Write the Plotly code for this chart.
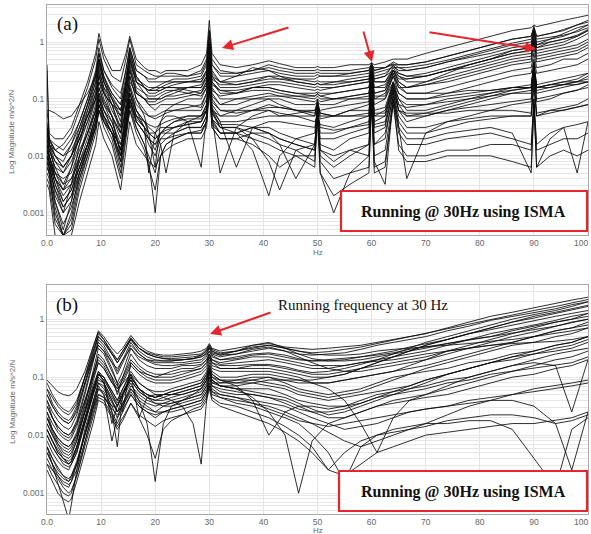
import plotly.graph_objects as go

# ---------------------------------------------------------------------------
# Frequency grids (Hz)
# ---------------------------------------------------------------------------
FREQ_A = [0, 0.4, 1.5, 3, 4.5, 6, 7.5, 9, 9.6, 10.5,
          12, 13.6, 14.6, 15.3, 16.5, 18, 18.8, 20, 21, 22,
          23.5, 26, 28.5, 29.5, 30, 30.5, 32, 35, 38, 41,
          43, 46, 49.5, 50, 50.5, 53, 56, 59.5, 60, 60.5,
          62.5, 64, 65, 66.5, 70, 74, 78, 82, 86, 89.5,
          90, 90.5, 93, 95.5, 98, 100]

FREQ_B = [0, 1, 2, 3, 4, 4.5, 5.5, 7, 8.5, 9.5,
          10.5, 12, 13, 14, 15.5, 17, 18.5, 20, 21.5, 23,
          25, 27, 28.5, 29.5, 30, 30.5, 32, 35, 38, 41,
          44, 46.5, 49, 52, 55, 58, 61, 64, 67, 70,
          74, 78, 82, 86, 90, 94, 97, 100]

# ---------------------------------------------------------------------------
# (a) FRFs measured while running at 30 Hz - log10 magnitude, m/s^2/N
# ---------------------------------------------------------------------------
A01 = [-1.2,-1.6,-1.7,-1.7,-1.5,-1.1,-0.7,-0.2,0.15,-0.2, -0.5,-0.5,-0.2,0.1,-0.3,-0.45,-0.5,-0.5,-0.55,-0.5, -0.5,-0.5,-0.4,-0.2,0.38,-0.2,-0.4,-0.45,-0.4,-0.33, -0.38,-0.45,-0.45,-0.43,-0.45,-0.45,-0.4,-0.4,-0.36,-0.4, -0.35,-0.3,-0.3,-0.3,-0.2,-0.1,0.0,0.1,0.2,0.25, 0.3,0.27,0.33,0.38,0.43,0.47]
A02 = [-1.6,-1.8,-1.9,-1.8,-1.6,-1.2,-0.8,-0.3,0.05,-0.3, -0.6,-0.7,-0.3,0.05,-0.4,-0.5,-0.55,-0.6,-0.6,-0.55, -0.55,-0.6,-0.5,-0.3,0.2,-0.3,-0.5,-0.55,-0.5,-0.4, -0.45,-0.5,-0.5,-0.48,-0.5,-0.5,-0.5,-0.45,-0.4,-0.45, -0.45,-0.4,-0.4,-0.4,-0.35,-0.25,-0.15,-0.05,0.05,0.1, 0.28,0.1,0.15,0.2,0.3,0.38]
A03 = [-0.5,-1.8,-2.0,-2.1,-1.8,-1.4,-1.0,-0.5,-0.1,-0.5, -0.8,-1.0,-0.5,-0.1,-0.5,-0.6,-0.7,-0.7,-0.7,-0.7, -0.65,-0.65,-0.6,-0.4,0.1,-0.4,-0.6,-0.6,-0.55,-0.5, -0.55,-0.6,-0.6,-0.57,-0.6,-0.6,-0.6,-0.55,-0.4,-0.55, -0.5,-0.45,-0.45,-0.5,-0.45,-0.35,-0.25,-0.15,-0.05,0.0, 0.15,0.0,0.05,0.1,0.2,0.3]
A04 = [-1.9,-2.0,-2.4,-2.6,-2.2,-1.6,-1.1,-0.6,-0.2,-0.6, -1.0,-1.3,-0.7,-0.2,-0.6,-0.8,-0.9,-0.9,-0.85,-0.8, -0.75,-0.7,-0.7,-0.5,0.0,-0.5,-0.7,-0.75,-0.7,-0.6, -0.6,-0.65,-0.7,-0.68,-0.7,-0.7,-0.7,-0.65,-0.5,-0.65, -0.6,-0.5,-0.55,-0.6,-0.6,-0.5,-0.4,-0.3,-0.2,-0.15, 0.05,-0.15,-0.1,-0.05,0.05,0.15]
A05 = [-2.0,-2.1,-2.7,-3.0,-2.5,-1.8,-1.2,-0.7,-0.3,-0.7, -1.1,-1.5,-0.8,-0.3,-0.7,-0.9,-1.0,-1.0,-1.0,-0.95, -0.9,-0.8,-0.8,-0.6,-0.1,-0.6,-0.8,-0.8,-0.75,-0.7, -0.7,-0.75,-0.8,-0.78,-0.8,-0.8,-0.75,-0.7,-0.45,-0.7, -0.7,-0.45,-0.6,-0.7,-0.7,-0.6,-0.5,-0.4,-0.3,-0.25, 0.0,-0.25,-0.2,-0.15,-0.1,0.0]
A06 = [-1.7,-1.9,-2.2,-2.3,-2.0,-1.6,-1.2,-0.8,-0.4,-0.7, -1.0,-1.4,-0.7,-0.15,-0.6,-0.8,-0.85,-0.8,-0.8,-0.8, -0.8,-0.85,-0.9,-0.7,-0.2,-0.7,-0.9,-0.9,-0.8,-0.8, -0.85,-0.9,-0.9,-0.88,-0.9,-0.9,-0.85,-0.8,-0.5,-0.8, -0.8,-0.5,-0.7,-0.8,-0.75,-0.7,-0.6,-0.5,-0.4,-0.35, -0.1,-0.35,-0.3,-0.25,-0.2,-0.1]
A07 = [-1.8,-2.0,-2.3,-2.5,-2.2,-1.8,-1.4,-0.9,-0.5,-0.8, -1.1,-1.6,-1.0,-0.5,-0.9,-1.0,-1.1,-1.1,-1.05,-1.0, -1.0,-0.95,-0.9,-0.75,-0.3,-0.8,-1.0,-1.0,-0.95,-0.9, -0.95,-1.0,-1.05,-1.0,-1.05,-1.0,-0.95,-0.9,-0.55,-0.9, -0.85,-0.55,-0.75,-0.9,-0.9,-0.8,-0.7,-0.6,-0.5,-0.45, -0.2,-0.45,-0.4,-0.3,-0.3,-0.2]
A08 = [-2.0,-2.2,-2.8,-3.3,-2.8,-2.0,-1.5,-1.0,-0.6,-0.9, -1.3,-2.0,-1.1,-0.6,-1.0,-1.3,-1.6,-2.2,-1.4,-1.2, -1.1,-1.0,-1.0,-0.8,-0.35,-0.9,-1.1,-1.0,-1.0,-1.0, -1.1,-1.2,-1.3,-1.0,-1.3,-1.3,-1.2,-1.1,-0.6,-1.1, -1.0,-0.6,-0.9,-1.0,-1.0,-0.9,-0.8,-0.7,-0.6,-0.55, -0.3,-0.55,-0.5,-0.45,-0.4,-0.3]
A09 = [-1.5,-1.8,-2.0,-2.2,-2.0,-1.7,-1.3,-1.0,-0.7,-0.9, -1.1,-1.3,-1.0,-0.7,-0.9,-1.0,-1.1,-1.2,-1.1,-1.1, -1.1,-1.1,-1.15,-0.9,-0.4,-1.0,-1.2,-1.2,-1.1,-1.0, -1.0,-1.1,-1.1,-1.05,-1.1,-1.1,-1.0,-1.0,-0.7,-1.0, -1.0,-0.7,-0.9,-1.0,-1.0,-0.95,-0.9,-0.85,-0.8,-0.8, -0.45,-0.8,-0.75,-0.7,-0.7,-0.6]
A10 = [-1.8,-2.0,-2.4,-2.8,-2.6,-2.1,-1.7,-1.2,-0.8,-1.1, -1.4,-1.9,-1.3,-0.8,-1.2,-1.4,-1.6,-1.6,-1.5,-1.5, -1.4,-1.3,-1.3,-1.1,-0.5,-1.1,-1.3,-1.3,-1.2,-1.2, -1.3,-1.3,-1.3,-1.1,-1.35,-1.3,-1.2,-1.2,-0.7,-1.2, -1.15,-0.7,-1.0,-1.1,-1.1,-1.05,-1.0,-0.95,-0.9,-0.9, -0.5,-0.9,-0.85,-0.8,-0.75,-0.7]
A11 = [-2.1,-2.3,-2.9,-3.4,-3.0,-2.3,-1.8,-1.3,-0.9,-1.2, -1.5,-2.1,-1.4,-0.9,-1.3,-1.5,-1.7,-1.9,-1.6,-1.5, -1.4,-1.35,-1.35,-1.15,-0.55,-1.2,-1.5,-1.6,-1.9,-2.7, -2.0,-1.7,-1.6,-1.1,-1.6,-1.6,-1.5,-1.4,-0.8,-1.4, -1.3,-0.8,-1.1,-1.3,-1.3,-1.2,-1.1,-1.0,-0.9,-0.85, -0.4,-0.85,-0.8,-0.75,-0.7,-0.65]
A12 = [-1.9,-2.1,-2.5,-2.9,-2.7,-2.2,-1.8,-1.4,-1.0,-1.3, -1.6,-2.2,-1.5,-1.0,-1.4,-1.6,-1.8,-2.0,-1.7,-1.6, -1.5,-1.4,-1.4,-1.2,-0.6,-1.25,-1.5,-1.5,-1.7,-2.1, -2.6,-1.9,-1.8,-1.1,-1.8,-1.9,-1.7,-1.6,-0.85,-1.6, -1.5,-0.85,-1.2,-1.4,-1.3,-1.2,-1.15,-1.1,-1.05,-1.0, -0.55,-1.0,-0.95,-0.9,-0.85,-0.8]
A13 = [-2.2,-2.3,-3.1,-3.4,-3.2,-2.5,-2.0,-1.5,-1.1,-1.4, -1.7,-2.3,-1.6,-1.1,-1.5,-1.8,-2.0,-2.3,-1.8,-1.7, -1.6,-1.5,-1.5,-1.3,-0.65,-1.35,-1.6,-1.6,-1.5,-1.6, -1.7,-1.8,-1.9,-1.2,-2.0,-2.2,-2.0,-1.8,-0.9,-1.8, -1.7,-0.9,-1.3,-1.5,-1.5,-1.4,-1.35,-1.3,-1.3,-1.3, -0.7,-1.3,-1.2,-1.15,-1.1,-1.0]
A14 = [-1.7,-1.9,-2.2,-2.5,-2.4,-2.1,-1.8,-1.5,-1.2,-1.4, -1.6,-2.0,-1.6,-1.2,-1.5,-1.8,-2.1,-3.0,-2.0,-1.8, -1.7,-1.6,-1.6,-1.4,-0.7,-1.5,-1.7,-1.7,-1.6,-1.6, -1.7,-1.8,-1.9,-1.25,-1.9,-2.1,-1.9,-1.8,-0.95,-1.8, -1.6,-0.95,-1.4,-1.6,-1.6,-1.5,-1.4,-1.35,-1.3,-1.3, -0.8,-1.3,-1.25,-1.2,-1.15,-1.1]
A15 = [-1.6,-1.8,-2.3,-2.6,-2.5,-2.2,-1.8,-1.3,-1.0,-1.2, -1.4,-1.8,-1.3,-0.9,-1.2,-1.4,-1.5,-1.6,-1.8,-2.3, -1.6,-1.4,-1.3,-1.2,-0.6,-1.3,-2.3,-1.5,-1.3,-1.2, -1.25,-1.3,-1.4,-1.3,-1.45,-1.5,-1.4,-1.3,-0.75,-1.3, -1.2,-0.75,-1.0,-1.2,-1.2,-1.1,-1.0,-0.9,-0.8,-0.75, -0.35,-0.75,-0.7,-0.65,-0.6,-0.55]
A16 = [-2.3,-2.4,-3.0,-3.4,-3.1,-2.4,-1.9,-1.4,-1.0,-1.3, -1.6,-2.1,-1.5,-1.0,-1.4,-1.6,-1.7,-1.8,-1.6,-1.5, -1.5,-1.45,-1.4,-1.2,-0.6,-1.2,-1.4,-1.4,-1.35,-1.3, -1.3,-1.25,-1.2,-1.15,-1.2,-1.15,-1.1,-1.05,-0.6,-1.0, -0.9,-0.6,-0.8,-0.8,-0.7,-0.55,-0.4,-0.3,-0.15,-0.1, 0.2,-0.05,0.05,0.15,0.25,0.3]
A17 = [-1.9,-2.0,-2.4,-2.7,-2.5,-2.0,-1.6,-1.1,-0.7,-1.0, -1.3,-1.7,-1.1,-0.6,-1.0,-1.2,-1.3,-1.3,-1.25,-1.2, -1.2,-1.15,-1.1,-0.9,-0.4,-0.95,-1.1,-1.1,-1.0,-0.95, -0.95,-0.95,-0.95,-0.9,-0.95,-0.9,-0.85,-0.8,-0.5,-0.8, -0.75,-0.5,-0.65,-0.65,-0.6,-0.5,-0.4,-0.3,-0.2,-0.15, 0.1,-0.1,0.0,0.05,0.1,0.2]
A18 = [-2.0,-2.2,-2.6,-3.0,-2.8,-2.3,-1.9,-1.4,-1.1,-1.3, -1.5,-1.9,-1.4,-1.0,-1.3,-1.5,-1.6,-1.7,-1.6,-1.6, -1.6,-1.5,-1.5,-1.3,-0.7,-1.35,-1.5,-1.5,-1.6,-1.7, -1.8,-1.9,-2.1,-1.4,-2.3,-3.0,-2.3,-2.0,-1.0,-2.0, -1.9,-1.0,-1.6,-1.8,-1.8,-1.7,-1.65,-1.6,-1.7,-1.8, -1.0,-1.8,-1.6,-1.5,-2.3,-1.4]
A19 = [-2.4,-2.5,-3.2,-3.4,-3.3,-2.6,-2.1,-1.6,-1.2,-1.5, -1.8,-2.4,-1.7,-1.2,-1.6,-1.9,-2.2,-2.6,-2.0,-1.8, -1.7,-1.6,-1.6,-1.4,-0.75,-1.4,-1.6,-1.6,-1.5,-1.5, -1.6,-1.7,-1.8,-1.2,-1.9,-2.0,-1.9,-2.0,-1.0,-2.1, -2.5,-1.0,-1.5,-1.7,-1.7,-1.6,-1.55,-1.5,-1.6,-2.3, -1.1,-2.2,-1.7,-1.5,-1.45,-1.4]
A20 = [-1.5,-1.7,-1.9,-2.0,-1.9,-1.6,-1.3,-0.9,-0.6,-0.9, -1.1,-1.2,-0.9,-0.5,-0.9,-1.0,-1.0,-1.0,-1.0,-0.95, -0.95,-0.9,-0.85,-0.7,-0.25,-0.75,-0.85,-0.85,-0.8,-0.8, -0.85,-0.9,-0.95,-0.92,-0.95,-1.0,-1.0,-0.95,-0.55,-0.95, -0.95,-0.55,-0.8,-0.9,-0.9,-0.9,-0.85,-0.85,-0.8,-0.8, -0.4,-0.8,-0.75,-0.75,-0.7,-0.7]
A21 = [-1.8,-2.0,-2.3,-2.4,-2.3,-1.9,-1.6,-1.2,-0.9,-1.1, -1.3,-1.6,-1.2,-0.8,-1.2,-1.5,-2.3,-1.6,-1.4,-1.3, -1.3,-1.4,-2.2,-1.3,-0.5,-1.2,-1.3,-1.2,-1.2,-1.1, -1.15,-1.2,-1.25,-1.1,-1.25,-1.3,-1.3,-1.25,-0.8,-1.25, -1.25,-0.7,-1.1,-1.15,-1.1,-1.0,-0.95,-0.9,-0.85,-0.8, -0.45,-0.8,-0.8,-0.75,-0.75,-0.7]
A22 = [-1.6,-1.8,-2.1,-2.3,-2.1,-1.7,-1.3,-0.8,-0.45,-0.8, -1.0,-1.2,-0.8,-0.4,-0.8,-0.9,-0.95,-0.95,-0.9,-0.85, -0.85,-0.8,-0.75,-0.6,-0.15,-0.65,-0.75,-0.75,-0.7,-0.65, -0.65,-0.65,-0.65,-0.62,-0.6,-0.6,-0.55,-0.5,-0.37,-0.5, -0.45,-0.35,-0.4,-0.4,-0.35,-0.25,-0.15,-0.05,0.05,0.1, 0.25,0.1,0.15,0.22,0.3,0.35]
A23 = [-2.5,-2.6,-3.4,-3.4,-3.4,-2.8,-2.3,-1.8,-1.4,-1.7, -2.0,-2.6,-1.9,-1.4,-1.8,-2.0,-2.1,-2.2,-2.0,-1.9, -1.8,-1.7,-1.7,-1.5,-0.85,-1.5,-1.7,-1.7,-1.8,-2.0, -2.2,-2.0,-2.0,-1.3,-2.1,-2.4,-2.3,-2.2,-1.1,-2.2, -2.1,-1.1,-1.8,-2.0,-2.0,-1.9,-1.9,-1.8,-1.8,-1.9, -1.0,-1.9,-1.8,-1.7,-1.7,-1.6]
A24 = [-0.4,-1.7,-2.0,-2.2,-2.0,-1.5,-1.1,-0.6,-0.3,-0.65, -0.9,-1.1,-0.6,-0.25,-0.65,-0.75,-0.8,-0.8,-0.75,-0.7, -0.7,-0.7,-0.7,-0.55,-0.05,-0.6,-0.7,-0.7,-0.65,-0.6, -0.65,-0.7,-0.75,-0.72,-0.75,-0.75,-0.7,-0.65,-0.45,-0.65, -0.6,-0.4,-0.55,-0.6,-0.55,-0.45,-0.35,-0.25,-0.15,-0.1, 0.2,-0.1,-0.05,0.0,0.1,0.2]
A25 = [-1.2,-1.2,-1.25,-1.35,-1.3,-1.1,-0.9,-0.6,-0.3,-0.6, -0.9,-1.1,-0.7,-0.35,-0.7,-0.8,-0.85,-0.85,-0.85,-0.8, -0.8,-0.8,-0.8,-0.65,-0.2,-0.7,-0.85,-0.9,-0.85,-0.85, -0.9,-0.95,-1.0,-0.95,-1.0,-1.0,-0.95,-0.9,-0.5,-0.9, -0.85,-0.5,-0.7,-0.8,-0.75,-0.65,-0.55,-0.45,-0.35,-0.3, 0.0,-0.3,-0.25,-0.2,-0.15,-0.05]
A26 = [-2.1,-2.2,-2.6,-2.9,-2.7,-2.3,-1.9,-1.5,-1.2,-1.4, -1.6,-1.8,-1.5,-1.1,-1.4,-1.6,-1.7,-1.8,-1.7,-1.7, -1.65,-1.6,-1.55,-1.4,-0.8,-1.45,-1.6,-1.6,-1.7,-1.8, -1.9,-2.0,-2.2,-1.0,-2.3,-2.7,-2.5,-2.3,-1.0,-2.3, -2.2,-1.0,-1.9,-2.1,-2.1,-2.0,-2.0,-2.0,-2.1,-2.2, -1.1,-2.2,-2.0,-1.9,-2.0,-1.9]
A27 = [-1.7,-1.9,-2.1,-2.2,-2.0,-1.7,-1.4,-1.0,-0.55,-0.85, -1.2,-1.5,-0.9,-0.45,-0.85,-1.0,-1.05,-1.05,-0.95,-0.9, -0.85,-0.9,-0.95,-0.8,-0.3,-0.85,-0.95,-0.9,-0.8,-0.75, -0.75,-0.8,-0.85,-0.83,-0.85,-0.8,-0.75,-0.7,-0.5,-0.7, -0.7,-0.5,-0.6,-0.65,-0.6,-0.5,-0.45,-0.35,-0.25,-0.2, 0.05,-0.2,-0.15,-0.1,-0.05,0.05]
A28 = [-2.0,-2.1,-2.5,-2.8,-2.6,-2.2,-1.8,-1.3,-0.95,-1.2, -1.5,-1.9,-1.35,-0.9,-1.3,-1.4,-1.45,-1.5,-1.45,-1.4, -1.35,-1.3,-1.3,-1.1,-0.55,-1.15,-1.4,-2.2,-1.5,-1.4, -1.4,-1.45,-1.5,-1.2,-1.5,-1.55,-1.5,-1.45,-0.85,-1.45, -1.4,-0.8,-1.2,-1.3,-1.25,-1.15,-1.05,-0.95,-0.85,-0.8, -0.35,-0.8,-0.75,-0.7,-0.65,-0.55]
A29 = [-1.4,-1.7,-1.9,-2.0,-1.8,-1.5,-1.1,-0.7,-0.35,-0.7, -0.95,-1.2,-0.75,-0.3,-0.7,-0.8,-0.85,-0.85,-0.8,-0.75, -0.7,-0.7,-0.65,-0.5,0.0,-0.55,-0.7,-0.6,-0.45,-0.5, -0.6,-0.7,-0.75,-0.73,-0.75,-0.7,-0.65,-0.6,-0.42,-0.6, -0.55,-0.42,-0.5,-0.5,-0.45,-0.35,-0.28,-0.2,-0.1,-0.05, 0.2,-0.05,0.0,0.05,0.12,0.22]
A30 = [-2.2,-2.3,-2.8,-3.2,-2.9,-2.4,-2.0,-1.5,-1.1,-1.35, -1.6,-2.0,-1.5,-1.05,-1.35,-1.5,-1.6,-1.7,-1.6,-1.55, -1.5,-1.45,-1.4,-1.2,-0.6,-1.25,-1.45,-1.45,-1.5,-1.6, -1.8,-2.4,-1.8,-1.3,-1.7,-1.7,-1.6,-1.5,-0.8,-1.5, -1.45,-0.85,-1.5,-2.4,-1.6,-1.4,-1.3,-1.2,-1.1,-1.05, -0.5,-1.05,-1.0,-0.9,-0.85,-0.75]
A31 = [-1.9,-2.1,-2.4,-2.6,-2.4,-2.0,-1.6,-1.2,-0.8,-1.05, -1.3,-1.6,-1.2,-0.75,-1.1,-1.25,-1.3,-1.35,-1.3,-1.25, -1.2,-1.2,-1.2,-1.0,-0.45,-1.05,-1.2,-1.25,-1.2,-1.15, -1.15,-1.2,-1.2,-1.05,-1.25,-1.3,-1.3,-1.3,-0.75,-1.3, -1.3,-0.75,-1.2,-1.25,-1.25,-1.25,-1.2,-1.2,-1.2,-1.25, -0.6,-1.25,-1.2,-1.2,-1.15,-1.1]
A32 = [-1.5,-1.7,-1.8,-1.9,-1.7,-1.4,-1.0,-0.55,-0.2,-0.5, -0.75,-0.9,-0.5,-0.1,-0.5,-0.6,-0.65,-0.65,-0.6,-0.6, -0.6,-0.6,-0.55,-0.35,0.2,-0.4,-0.55,-0.55,-0.5,-0.45, -0.5,-0.55,-0.55,-0.53,-0.55,-0.55,-0.55,-0.5,-0.38,-0.5, -0.45,-0.38,-0.45,-0.45,-0.4,-0.32,-0.22,-0.12,-0.02,0.05, 0.22,0.05,0.08,0.12,0.18,0.25]

# ---------------------------------------------------------------------------
# (b) FRFs after removing the running component - log10 magnitude, m/s^2/N
# ---------------------------------------------------------------------------
B01 = [-1.05,-1.15,-1.25,-1.3,-1.32,-1.3,-1.2,-0.9,-0.5,-0.2, -0.3,-0.5,-0.6,-0.5,-0.28,-0.45,-0.55,-0.6,-0.62,-0.62, -0.6,-0.58,-0.55,-0.5,-0.42,-0.5,-0.55,-0.5,-0.45,-0.42, -0.48,-0.5,-0.52,-0.5,-0.48,-0.45,-0.4,-0.35,-0.3,-0.25, -0.15,-0.05,0.05,0.12,0.2,0.27,0.33,0.38]
B02 = [-1.3,-1.5,-1.65,-1.75,-1.8,-1.75,-1.6,-1.1,-0.6,-0.25, -0.35,-0.55,-0.7,-0.55,-0.32,-0.5,-0.6,-0.65,-0.68,-0.68, -0.66,-0.65,-0.62,-0.55,-0.48,-0.55,-0.62,-0.6,-0.55,-0.5, -0.55,-0.6,-0.62,-0.6,-0.58,-0.52,-0.45,-0.4,-0.35,-0.3, -0.2,-0.12,-0.02,0.05,0.12,0.18,0.25,0.3]
B03 = [-1.4,-1.7,-1.9,-2.0,-2.05,-2.0,-1.8,-1.3,-0.75,-0.35, -0.45,-0.7,-0.9,-0.7,-0.4,-0.6,-0.7,-0.75,-0.75,-0.75, -0.75,-0.72,-0.7,-0.62,-0.55,-0.62,-0.7,-0.65,-0.6,-0.58, -0.62,-0.68,-0.72,-0.72,-0.7,-0.65,-0.6,-0.55,-0.48,-0.42, -0.35,-0.25,-0.15,-0.05,0.02,0.1,0.15,0.22]
B04 = [-1.6,-1.9,-2.1,-2.2,-2.25,-2.2,-2.0,-1.5,-0.9,-0.5, -0.6,-0.9,-1.1,-0.9,-0.5,-0.7,-0.8,-0.85,-0.85,-0.85, -0.8,-0.8,-0.78,-0.7,-0.6,-0.7,-0.78,-0.75,-0.72,-0.7, -0.75,-0.8,-0.85,-0.85,-0.8,-0.75,-0.7,-0.65,-0.6,-0.55, -0.45,-0.35,-0.3,-0.2,-0.12,-0.05,0.0,0.05]
B05 = [-1.8,-2.0,-2.2,-2.35,-2.4,-2.35,-2.1,-1.6,-1.0,-0.6, -0.7,-1.0,-1.3,-1.0,-0.6,-0.8,-0.9,-0.95,-0.95,-0.95, -0.9,-0.88,-0.85,-0.75,-0.65,-0.75,-0.85,-0.85,-0.8,-0.8, -0.85,-0.9,-0.95,-0.95,-0.9,-0.85,-0.8,-0.75,-0.7,-0.65, -0.55,-0.5,-0.45,-0.4,-0.3,-0.2,-0.15,-0.1]
B06 = [-1.5,-1.7,-1.85,-1.95,-2.0,-1.95,-1.8,-1.4,-1.0,-0.75, -0.85,-1.1,-1.2,-1.1,-0.95,-1.1,-1.2,-1.25,-1.25,-1.2, -1.15,-1.1,-1.05,-0.9,-0.75,-0.9,-1.0,-1.0,-0.95,-0.95, -1.0,-1.05,-1.1,-1.1,-1.05,-1.0,-0.95,-0.9,-0.85,-0.8, -0.7,-0.6,-0.5,-0.4,-0.3,-0.2,-0.15,-0.05]
B07 = [-1.9,-2.1,-2.25,-2.4,-2.5,-2.45,-2.2,-1.7,-1.2,-0.9, -1.0,-1.3,-1.5,-1.3,-1.0,-1.2,-1.3,-1.35,-1.3,-1.25, -1.2,-1.15,-1.1,-0.95,-0.8,-0.95,-1.05,-1.1,-1.05,-1.0, -1.1,-1.2,-1.25,-1.3,-1.25,-1.2,-1.1,-1.0,-0.95,-0.9, -0.85,-0.75,-0.7,-0.6,-0.55,-0.45,-0.4,-0.3]
B08 = [-2.1,-2.3,-2.45,-2.55,-2.6,-2.5,-2.3,-1.8,-1.3,-1.0, -1.1,-1.4,-1.6,-1.35,-1.1,-1.4,-1.8,-2.8,-1.8,-1.5, -1.4,-1.3,-1.2,-1.05,-0.9,-1.05,-1.15,-1.2,-1.2,-1.2, -1.3,-1.4,-1.45,-1.5,-1.5,-1.4,-1.3,-1.25,-1.2,-1.15, -1.05,-1.0,-0.9,-0.8,-0.7,-0.6,-0.55,-0.5]
B09 = [-2.2,-2.5,-2.8,-3.1,-3.45,-3.2,-2.6,-1.9,-1.4,-1.1, -1.15,-1.4,-1.6,-1.5,-1.2,-1.4,-1.5,-1.6,-1.5,-1.45, -1.4,-1.35,-1.3,-1.15,-1.0,-1.15,-1.25,-1.3,-1.3,-1.35, -1.4,-1.5,-1.6,-1.7,-1.7,-1.6,-1.5,-1.45,-1.4,-1.35, -1.3,-1.2,-1.1,-1.0,-0.95,-0.85,-0.8,-0.7]
B10 = [-1.7,-1.9,-2.05,-2.15,-2.2,-2.15,-2.0,-1.6,-1.2,-0.95, -1.0,-1.25,-1.4,-1.2,-0.9,-1.1,-1.2,-1.3,-1.35,-1.4, -1.5,-1.8,-2.5,-1.3,-0.85,-1.1,-1.1,-1.05,-1.0,-1.0, -1.05,-1.1,-1.1,-1.1,-1.05,-1.0,-0.95,-0.9,-0.8,-0.7, -0.55,-0.45,-0.35,-0.25,-0.15,-0.05,0.0,0.1]
B11 = [-2.0,-2.2,-2.35,-2.5,-2.55,-2.5,-2.3,-1.8,-1.3,-1.05, -1.1,-1.35,-1.5,-1.3,-1.05,-1.25,-1.35,-1.4,-1.4,-1.35, -1.3,-1.25,-1.2,-1.05,-0.9,-1.05,-1.15,-1.2,-1.35,-1.6, -2.0,-3.0,-2.1,-1.8,-1.7,-1.6,-1.5,-1.4,-1.35,-1.3, -1.2,-1.1,-1.0,-0.9,-0.8,-0.7,-0.65,-0.55]
B12 = [-1.9,-2.1,-2.3,-2.4,-2.45,-2.4,-2.2,-1.75,-1.25,-0.95, -1.05,-1.3,-1.45,-1.25,-1.0,-1.2,-1.3,-1.35,-1.3,-1.25, -1.2,-1.15,-1.1,-0.95,-0.8,-0.95,-1.05,-1.15,-1.4,-2.0, -1.6,-1.5,-1.5,-1.55,-1.5,-1.45,-1.35,-1.3,-1.2,-1.1, -0.95,-0.85,-0.75,-0.65,-0.55,-0.45,-0.4,-0.3]
B13 = [-2.3,-2.5,-2.7,-2.85,-2.9,-2.8,-2.5,-2.0,-1.5,-1.2, -1.25,-1.5,-1.7,-1.55,-1.3,-1.5,-1.6,-1.7,-1.6,-1.55, -1.5,-1.45,-1.4,-1.25,-1.1,-1.25,-1.35,-1.45,-1.5,-1.6, -1.7,-1.8,-2.0,-2.3,-2.8,-2.2,-2.0,-1.9,-1.85,-1.8, -1.8,-1.75,-1.75,-1.9,-2.4,-2.9,-1.9,-1.7]
B14 = [-2.4,-2.6,-2.75,-2.9,-3.0,-2.95,-2.7,-2.1,-1.55,-1.2, -1.3,-1.6,-1.8,-1.6,-1.3,-1.5,-1.6,-1.65,-1.6,-1.55, -1.5,-1.45,-1.4,-1.25,-1.1,-1.25,-1.3,-1.35,-1.4,-1.45, -1.5,-1.6,-1.7,-1.8,-1.9,-1.85,-1.8,-1.7,-1.6,-1.55, -1.5,-1.45,-1.4,-1.4,-1.5,-1.8,-2.6,-1.6]
B15 = [-2.2,-2.4,-2.55,-2.7,-2.8,-2.75,-2.5,-2.0,-1.45,-1.1, -1.2,-1.45,-1.6,-1.45,-1.2,-1.35,-1.45,-1.5,-1.45,-1.4, -1.35,-1.3,-1.25,-1.1,-0.95,-1.1,-1.15,-1.15,-1.1,-1.05, -1.05,-1.05,-1.05,-1.0,-0.95,-0.85,-0.75,-0.65,-0.55,-0.45, -0.35,-0.25,-0.15,-0.05,0.05,0.12,0.18,0.24]
B16 = [-1.2,-1.35,-1.5,-1.6,-1.65,-1.6,-1.45,-1.0,-0.55,-0.3, -0.4,-0.6,-0.75,-0.6,-0.35,-0.5,-0.58,-0.62,-0.65,-0.65, -0.63,-0.62,-0.6,-0.52,-0.45,-0.52,-0.58,-0.55,-0.5,-0.45, -0.5,-0.55,-0.6,-0.62,-0.62,-0.6,-0.55,-0.52,-0.5,-0.48, -0.45,-0.42,-0.38,-0.35,-0.3,-0.25,-0.2,-0.15]
B17 = [-1.5,-1.7,-1.85,-1.95,-2.0,-1.95,-1.75,-1.25,-0.7,-0.4, -0.5,-0.75,-0.95,-0.75,-0.45,-0.6,-0.7,-0.72,-0.72,-0.72, -0.7,-0.68,-0.65,-0.6,-0.5,-0.6,-0.65,-0.6,-0.52,-0.48, -0.55,-0.65,-0.75,-0.85,-0.9,-0.9,-0.85,-0.8,-0.75,-0.7, -0.6,-0.5,-0.4,-0.3,-0.22,-0.12,-0.05,0.0]
B18 = [-2.6,-2.8,-3.0,-3.1,-3.15,-3.1,-2.8,-2.3,-1.8,-1.4, -1.45,-1.7,-1.9,-1.75,-1.45,-1.65,-1.75,-1.85,-1.75,-1.7, -1.65,-1.6,-1.55,-1.4,-1.2,-1.4,-1.5,-1.6,-1.7,-1.8, -1.95,-2.1,-2.3,-2.6,-2.7,-2.5,-2.3,-2.2,-2.1,-2.0, -1.95,-1.9,-1.85,-1.8,-1.8,-1.75,-1.7,-1.6]
B19 = [-1.7,-1.95,-2.15,-2.3,-2.35,-2.3,-2.1,-1.6,-1.15,-0.9, -1.1,-1.6,-2.2,-1.3,-0.95,-1.2,-1.3,-1.35,-1.3,-1.3, -1.25,-1.2,-1.15,-1.0,-0.85,-1.0,-1.1,-1.1,-1.1,-1.15, -1.2,-1.3,-1.35,-1.4,-1.35,-1.3,-1.25,-1.2,-1.15,-1.05, -0.95,-0.85,-0.75,-0.65,-0.6,-0.5,-0.45,-0.35]
B20 = [-1.8,-2.0,-2.15,-2.25,-2.3,-2.25,-2.05,-1.55,-1.05,-0.75, -0.85,-1.1,-1.25,-1.1,-0.8,-0.95,-1.05,-1.1,-1.1,-1.1, -1.05,-1.0,-0.95,-0.85,-0.7,-0.85,-0.9,-0.9,-0.9,-0.9, -0.95,-1.0,-1.1,-1.2,-1.4,-1.8,-2.3,-1.7,-1.4,-1.3, -1.15,-1.0,-0.9,-0.8,-0.75,-0.8,-1.6,-0.7]
B21 = [-2.5,-2.7,-2.85,-3.0,-3.05,-3.0,-2.7,-2.2,-1.7,-1.35, -1.4,-1.65,-1.85,-1.7,-1.45,-1.7,-2.0,-2.4,-1.9,-1.75, -1.65,-1.55,-1.5,-1.35,-1.15,-1.35,-1.45,-1.5,-1.6,-1.7, -1.85,-2.0,-2.2,-2.6,-2.3,-2.1,-2.0,-1.95,-1.9,-1.85, -1.75,-1.7,-1.65,-1.65,-1.7,-1.8,-1.75,-1.65]
B22 = [-1.6,-1.8,-1.95,-2.05,-2.1,-2.05,-1.85,-1.4,-0.95,-0.65, -0.75,-1.0,-1.15,-1.0,-0.7,-0.85,-0.95,-1.0,-1.0,-1.0, -0.95,-0.9,-0.85,-0.75,-0.6,-0.75,-0.8,-0.8,-0.78,-0.78, -0.82,-0.88,-0.92,-0.9,-0.85,-0.78,-0.7,-0.6,-0.5,-0.4, -0.3,-0.2,-0.1,0.0,0.08,0.15,0.22,0.3]
B23 = [-1.3,-1.5,-1.65,-1.75,-1.8,-1.75,-1.55,-1.1,-0.7,-0.45, -0.55,-0.85,-1.1,-1.6,-0.75,-0.9,-0.95,-1.0,-0.95,-0.9, -0.85,-0.85,-0.8,-0.7,-0.6,-0.7,-0.75,-0.7,-0.65,-0.65, -0.7,-0.75,-0.8,-0.8,-0.8,-0.75,-0.72,-0.7,-0.65,-0.6, -0.55,-0.5,-0.45,-0.42,-0.4,-0.38,-0.35,-0.3]
B24 = [-2.3,-2.5,-2.65,-2.75,-2.8,-2.7,-2.45,-1.95,-1.45,-1.15, -1.3,-2.1,-1.7,-1.45,-1.15,-1.3,-1.4,-1.45,-1.45,-1.45, -1.4,-1.35,-1.3,-1.15,-1.0,-1.15,-1.2,-1.25,-1.3,-1.35, -1.45,-1.55,-1.6,-1.6,-1.55,-1.45,-1.35,-1.25,-1.15,-1.05, -0.95,-0.85,-0.75,-0.7,-0.6,-0.55,-0.5,-0.4]
B25 = [-1.1,-1.3,-1.45,-1.55,-1.6,-1.55,-1.4,-1.0,-0.65,-0.45, -0.55,-0.75,-0.85,-0.7,-0.5,-0.65,-0.72,-0.78,-0.8,-0.8, -0.78,-0.76,-0.74,-0.65,-0.55,-0.65,-0.7,-0.68,-0.62,-0.6, -0.65,-0.7,-0.72,-0.7,-0.68,-0.65,-0.62,-0.58,-0.52,-0.48, -0.42,-0.36,-0.3,-0.24,-0.18,-0.12,-0.06,0.0]
B26 = [-2.5,-2.6,-2.7,-2.8,-2.85,-2.8,-2.6,-2.1,-1.6,-1.3, -1.35,-1.55,-1.65,-1.5,-1.25,-1.45,-1.55,-1.6,-1.6,-1.6, -1.55,-1.5,-1.45,-1.3,-1.15,-1.3,-1.35,-1.4,-1.45,-1.5, -1.6,-1.7,-1.8,-1.95,-2.1,-2.2,-2.1,-2.0,-1.9,-1.8, -1.65,-1.5,-1.4,-1.3,-1.25,-1.2,-1.15,-1.1]
B27 = [-1.2,-1.45,-1.6,-1.7,-1.75,-1.7,-1.5,-1.0,-0.5,-0.22, -0.35,-0.6,-0.75,-0.6,-0.35,-0.55,-0.65,-0.7,-0.72,-0.72, -0.7,-0.68,-0.62,-0.55,-0.45,-0.55,-0.6,-0.55,-0.48,-0.45, -0.5,-0.55,-0.58,-0.56,-0.52,-0.48,-0.42,-0.36,-0.3,-0.24, -0.16,-0.08,0.0,0.08,0.15,0.22,0.28,0.34]
B28 = [-2.0,-2.2,-2.35,-2.45,-2.5,-2.45,-2.25,-1.75,-1.25,-0.95, -1.0,-1.25,-1.4,-1.2,-0.95,-1.7,-1.35,-1.3,-1.3,-1.3, -1.25,-1.2,-1.15,-1.0,-0.85,-1.0,-1.05,-1.05,-1.05,-1.1, -1.15,-1.25,-1.3,-1.35,-1.3,-1.25,-1.15,-1.05,-0.95,-0.85, -0.75,-0.65,-0.55,-0.45,-0.4,-0.3,-0.25,-0.15]
B29 = [-2.2,-2.4,-2.6,-2.7,-2.75,-2.7,-2.5,-2.0,-1.55,-1.3, -1.35,-1.5,-1.5,-1.3,-1.0,-1.2,-1.35,-1.45,-1.5,-1.5, -1.45,-1.4,-1.35,-1.2,-1.05,-1.2,-1.3,-1.35,-1.45,-1.55, -1.65,-1.75,-1.8,-1.85,-1.8,-1.75,-1.7,-1.65,-1.6,-1.55, -1.5,-1.4,-1.35,-1.3,-1.2,-1.15,-1.1,-1.05]
B30 = [-1.7,-1.9,-2.05,-2.15,-2.2,-2.15,-1.95,-1.45,-0.95,-0.7, -0.8,-1.05,-1.2,-1.05,-0.75,-0.9,-1.0,-1.05,-1.05,-1.05, -1.0,-0.95,-0.9,-0.8,-0.65,-0.8,-0.85,-0.85,-0.85,-0.85, -0.9,-0.95,-1.0,-1.0,-0.95,-0.85,-0.75,-0.65,-0.55,-0.45, -0.35,-0.25,-0.18,-0.1,-0.02,0.05,0.1,0.15]
B31 = [-1.9,-2.1,-2.3,-2.4,-2.5,-2.45,-2.2,-1.7,-1.2,-0.95, -1.05,-1.8,-1.5,-1.3,-1.05,-1.25,-1.35,-1.4,-1.35,-1.3, -1.3,-1.25,-1.2,-1.05,-0.9,-1.05,-1.15,-1.2,-1.25,-1.3, -1.35,-1.45,-1.55,-1.65,-1.6,-1.5,-1.4,-1.3,-1.25,-1.2, -1.1,-1.05,-0.95,-0.9,-0.85,-0.8,-0.75,-0.65]
B32 = [-1.4,-1.6,-1.75,-1.85,-1.9,-1.85,-1.65,-1.15,-0.65,-0.3, -0.4,-0.6,-0.7,-0.55,-0.33,-0.5,-0.6,-0.65,-0.68,-0.7, -0.7,-0.68,-0.65,-0.58,-0.5,-0.58,-0.62,-0.55,-0.45,-0.4, -0.5,-0.6,-0.68,-0.72,-0.72,-0.7,-0.65,-0.6,-0.55,-0.5, -0.42,-0.35,-0.25,-0.18,-0.1,-0.02,0.05,0.1]

CURVES_A = [A01, A02, A03, A04, A05, A06, A07, A08, A09, A10, A11, A12, A13, A14, A15, A16,
            A17, A18, A19, A20, A21, A22, A23, A24, A25, A26, A27, A28, A29, A30, A31, A32]
CURVES_B = [B01, B02, B03, B04, B05, B06, B07, B08, B09, B10, B11, B12, B13, B14, B15, B16,
            B17, B18, B19, B20, B21, B22, B23, B24, B25, B26, B27, B28, B29, B30, B31, B32]

X_TICKS = [0, 10, 20, 30, 40, 50, 60, 70, 80, 90, 100]
X_TICK_TEXT = ["0.0", "10", "20", "30", "40", "50", "60", "70", "80", "90", "100"]

for c in CURVES_A:
    assert len(c) == len(FREQ_A)
for c in CURVES_B:
    assert len(c) == len(FREQ_B)

# ---------------------------------------------------------------------------
W, H = 591, 534


def px(x):
    return x / W


def py(y):
    return 1 - y / H


# log-axis gridlines at every 1..9 x 10^n, labels only on decades
y_tick_vals, y_tick_text = [], []
for e in range(-4, 1):
    for k in range(1, 10):
        v = k * 10.0 ** e
        y_tick_vals.append(v)
        y_tick_text.append(f"{v:g}" if (k == 1 and e >= -3) else "")

fig = go.Figure()

line_style = dict(color="rgba(10,10,10,0.85)", width=1.0)
for c in CURVES_A:
    fig.add_trace(go.Scatter(x=FREQ_A, y=[10 ** v for v in c], mode="lines",
                             line=line_style, xaxis="x", yaxis="y",
                             showlegend=False, hoverinfo="skip"))
for c in CURVES_B:
    fig.add_trace(go.Scatter(x=FREQ_B, y=[10 ** v for v in c], mode="lines",
                             line=line_style, xaxis="x2", yaxis="y2",
                             showlegend=False, hoverinfo="skip"))

# the last x label sits against the page edge, so it is drawn right-aligned separately
axis_tick_text = X_TICK_TEXT[:-1] + [""]

tick_font = dict(family="Liberation Sans, Arial", size=8.5, color="#666")
x_common = dict(range=[0, 100], tickvals=X_TICKS, ticktext=axis_tick_text,
                showgrid=True, gridcolor="#e3e3e3", gridwidth=1,
                zeroline=False, showline=True, mirror=True, linecolor="#a8a8a8",
                linewidth=1, ticks="", tickfont=tick_font,
                automargin=False, domain=[px(47), px(588)])
y_common = dict(type="log", tickvals=y_tick_vals, ticktext=y_tick_text,
                showgrid=True, gridcolor="#e6e6e6", gridwidth=1,
                zeroline=False, showline=True, mirror=True, linecolor="#a8a8a8",
                linewidth=1, ticks="", tickfont=tick_font, automargin=False)

fig.update_layout(
    width=W, height=H,
    margin=dict(l=0, r=0, t=0, b=0),
    paper_bgcolor="white", plot_bgcolor="white",
    xaxis=dict(**x_common, anchor="y"),
    yaxis=dict(**y_common, range=[-3.39, 0.65], domain=[py(235), py(5)], anchor="x"),
    xaxis2=dict(**x_common, anchor="y2"),
    yaxis2=dict(**y_common, range=[-3.36, 0.59], domain=[py(514), py(285)], anchor="x2"),
)

annotations = []
shapes = []
small = dict(family="Liberation Sans, Arial", size=8, color="#666")
serif = "Liberation Serif, Times New Roman, serif"
red = "#e5262d"


def label(text, x, y, font, **kw):
    d = dict(text=text, x=px(x), y=py(y), xref="paper", yref="paper",
             showarrow=False, xanchor="center", yanchor="middle", font=font)
    d.update(kw)
    return d


for tag, y_mid, y_hz, y_tick in (("(a)", 24, 252, 243), ("(b)", 305, 530, 522)):
    annotations.append(label(tag, 67, y_mid, dict(family=serif, size=19, color="#111")))
    annotations.append(label("Hz", 318, y_hz, small))
    annotations.append(label(X_TICK_TEXT[-1], 590, y_tick, tick_font, xanchor="right"))

annotations.append(label("Log Magnitude m/s^2/N", 12, 132, small, textangle=-90))
annotations.append(label("Log Magnitude m/s^2/N", 12, 402, small, textangle=-90))

# labelled boxes
for x0, y0, x1, y1 in ((341, 191, 587, 231), (339, 471, 587, 511)):
    shapes.append(dict(type="rect", xref="paper", yref="paper",
                       x0=px(x0), x1=px(x1), y0=py(y1), y1=py(y0),
                       fillcolor="white", line=dict(color=red, width=2.2)))
    annotations.append(label("<b>Running @ 30Hz using ISMA</b>",
                             (x0 + x1) / 2, (y0 + y1) / 2 + 1,
                             dict(family=serif, size=16, color="#111")))

# red arrows (head, tail) in pixels
arrows = [((222, 48), (290, 27)), ((372, 62), (363, 30)),
          ((536, 49), (428, 32)), ((210, 334), (272, 312))]
for (hx, hy), (tx, ty) in arrows:
    annotations.append(dict(text="", x=px(hx), y=py(hy), xref="paper", yref="paper",
                            ax=tx - hx, ay=ty - hy, showarrow=True,
                            arrowhead=2, arrowsize=1.1, arrowwidth=2, arrowcolor=red))

annotations.append(label("Running frequency at 30 Hz", 276, 305,
                         dict(family=serif, size=15, color="#111"), xanchor="left"))

fig.update_layout(annotations=annotations, shapes=shapes)
fig.write_html("out.html")
